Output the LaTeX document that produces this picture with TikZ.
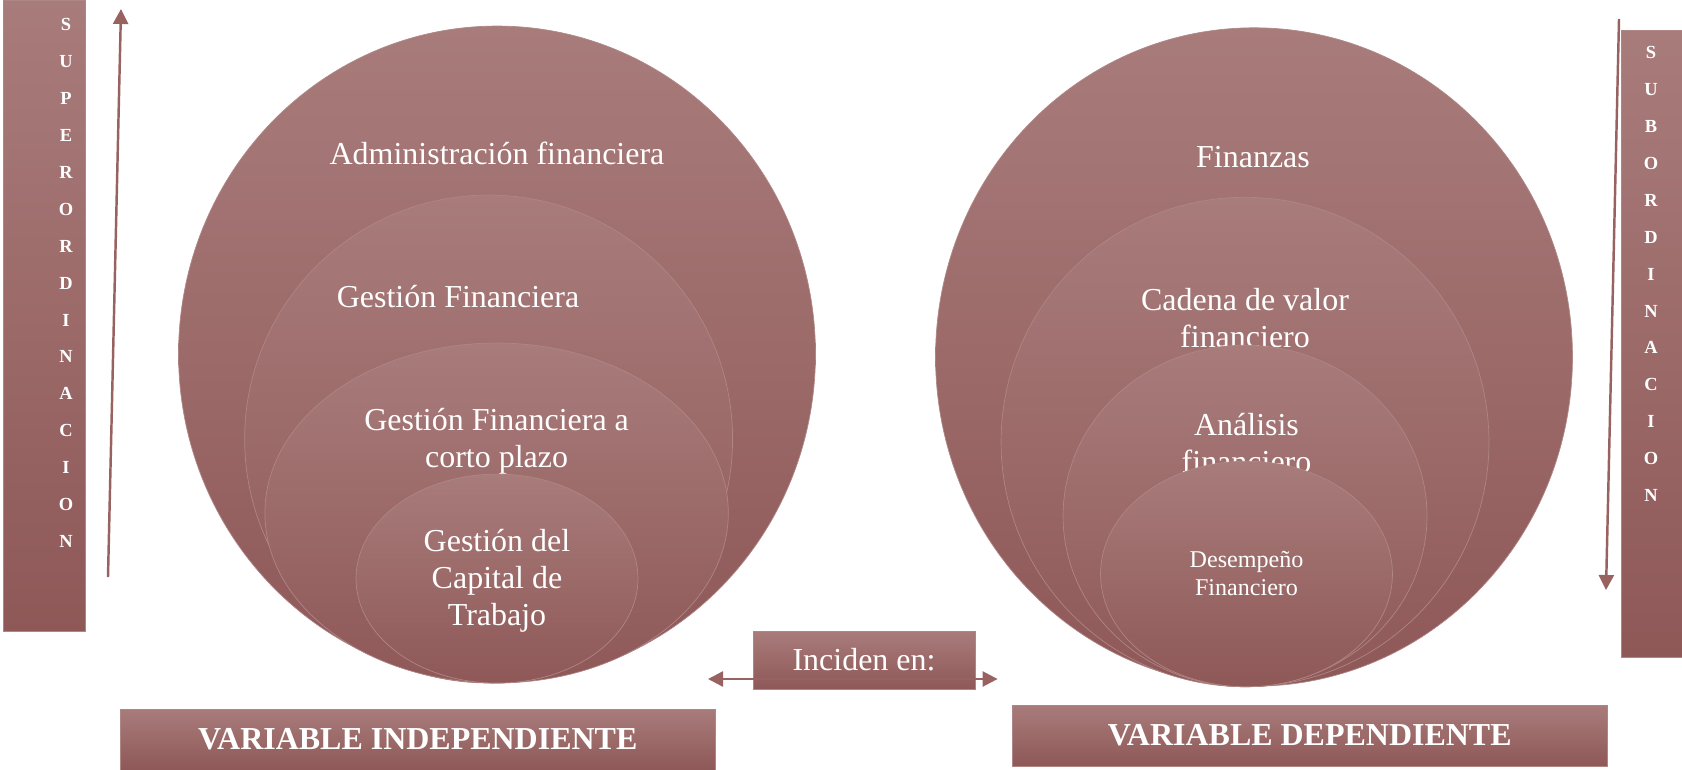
\documentclass[tikz,border=0pt]{standalone}
\usepackage{fontspec}
\setmainfont{Liberation Serif}
\usetikzlibrary{shapes.geometric, arrows.meta}

\definecolor{rosetop}{RGB}{168,124,123}
\definecolor{rosebot}{RGB}{142,88,87}
\definecolor{roseline}{RGB}{176,136,135}
\definecolor{roseedge}{RGB}{174,134,133}
\definecolor{rosearrow}{RGB}{152,98,97}

\begin{document}
\begin{tikzpicture}[x=0.02cm, y=-0.02cm]
        % Setup the styles for the rings, bars and labels
        \tikzset{outer ring/.style={ellipse, inner sep=0pt,
                                    top color=rosetop, bottom color=rosebot,
                                    draw=roseline, line width=0.4pt},
                 inner ring/.style={ellipse, inner sep=0pt,
                                    top color=rosetop, bottom color=rosebot,
                                    draw=roseedge, line width=0.4pt},
                 ring text/.style={text=white, align=center, inner sep=0pt,
                                   font=\fontsize{18.2}{21}\selectfont},
                 side box/.style={rectangle, inner sep=0pt,
                                  top color=rosetop, bottom color=rosebot,
                                  draw=roseedge, line width=0.5pt},
                 bar text/.style={text=white, align=center, inner sep=0pt,
                                  font=\fontsize{10.5}{21}\selectfont\bfseries},
                 level arrow/.style={draw=rosearrow, line width=1.4pt,
                                     -{Triangle[length=0.3cm, width=0.3cm]}}}

        \useasboundingbox (0,0) rectangle (1682,770);

        % Left rings (variable independiente)
        \node[outer ring, minimum width=12.74cm, minimum height=13.12cm] at (497,354) (adm) {};
        \node[ring text] at (497,153) (admtext) {Administración financiera};
        \node[inner ring, minimum width=9.76cm, minimum height=9.76cm] at (488.6,439) (gest) {};
        \node[ring text] at (458,297) (gesttext) {Gestión Financiera};
        \node[inner ring, minimum width=9.27cm, minimum height=6.8cm] at (496.6,513) (corto) {};
        \node[ring text] at (496.6,441) (cortotext) {Gestión Financiera a\\corto plazo};
        \node[inner ring, minimum width=5.64cm, minimum height=4.18cm] at (497,578.6) (capital) {};
        \node[ring text] at (497,581) (capitaltext) {Gestión del\\Capital de\\Trabajo};

        % Right rings (variable dependiente)
        \node[outer ring, minimum width=12.74cm, minimum height=13.17cm] at (1254,357) (fin) {};
        \node[ring text] at (1253,156.6) (fintext) {Finanzas};
        \node[inner ring, minimum width=9.76cm, minimum height=9.79cm] at (1245,442) (cadena) {};
        \node[ring text] at (1245,318.5) (cadenatext) {Cadena de valor\\financiero};
        \node[inner ring, minimum width=7.28cm, minimum height=6.83cm] at (1245,516) (analisis) {};
        \node[ring text] at (1246.5,443) (analisistext) {Análisis\\financiero};
        \node[inner ring, minimum width=5.84cm, minimum height=4.51cm] at (1246.5,574) (desem) {};
        \node[ring text, font=\fontsize{13.7}{16.5}\selectfont] at (1246.5,573.5) (desemtext) {Desempeño\\Financiero};

        % Side bars
        \node[side box, minimum width=1.64cm, minimum height=12.62cm] at (44,315.5) (superbar) {};
        \node[bar text] at (66,283) (superword) {S\\U\\P\\E\\R\\O\\R\\D\\I\\N\\A\\C\\I\\O\\N};
        \node[side box, minimum width=1.22cm, minimum height=12.54cm] at (1651.5,343.5) (subbar) {};
        \node[bar text] at (1651,274) (subword) {S\\U\\B\\O\\R\\D\\I\\N\\A\\C\\I\\O\\N};

        % Arrows beside the bars
        \coordinate (superlow) at (108,577);
        \coordinate (superhigh) at (121,9);
        \coordinate (subhigh) at (1619,19);
        \coordinate (sublow) at (1606,590);
        \draw[level arrow] (superlow) -- (superhigh);
        \draw[level arrow] (subhigh) -- (sublow);

        % Labels under the rings
        \node[side box, minimum width=11.91cm, minimum height=1.22cm, text=white,
              font=\fontsize{18.2}{21}\selectfont\bfseries] at (417.8,739.5) (indep) {VARIABLE INDEPENDIENTE};
        \node[side box, minimum width=11.89cm, minimum height=1.22cm, text=white,
              font=\fontsize{18.2}{21}\selectfont\bfseries] at (1309.8,735.5) (dep) {VARIABLE DEPENDIENTE};
        \node[side box, minimum width=4.44cm, minimum height=1.16cm, text=white,
              font=\fontsize{18.2}{21}\selectfont] at (864,660) (inciden) {Inciden en:};
        \coordinate (incleft) at (708,679);
        \coordinate (incright) at (997.6,679);
        \draw[level arrow, {Triangle[length=0.3cm, width=0.3cm]}-{Triangle[length=0.3cm, width=0.3cm]}] (incleft) -- (incright);
\end{tikzpicture}
\end{document}
